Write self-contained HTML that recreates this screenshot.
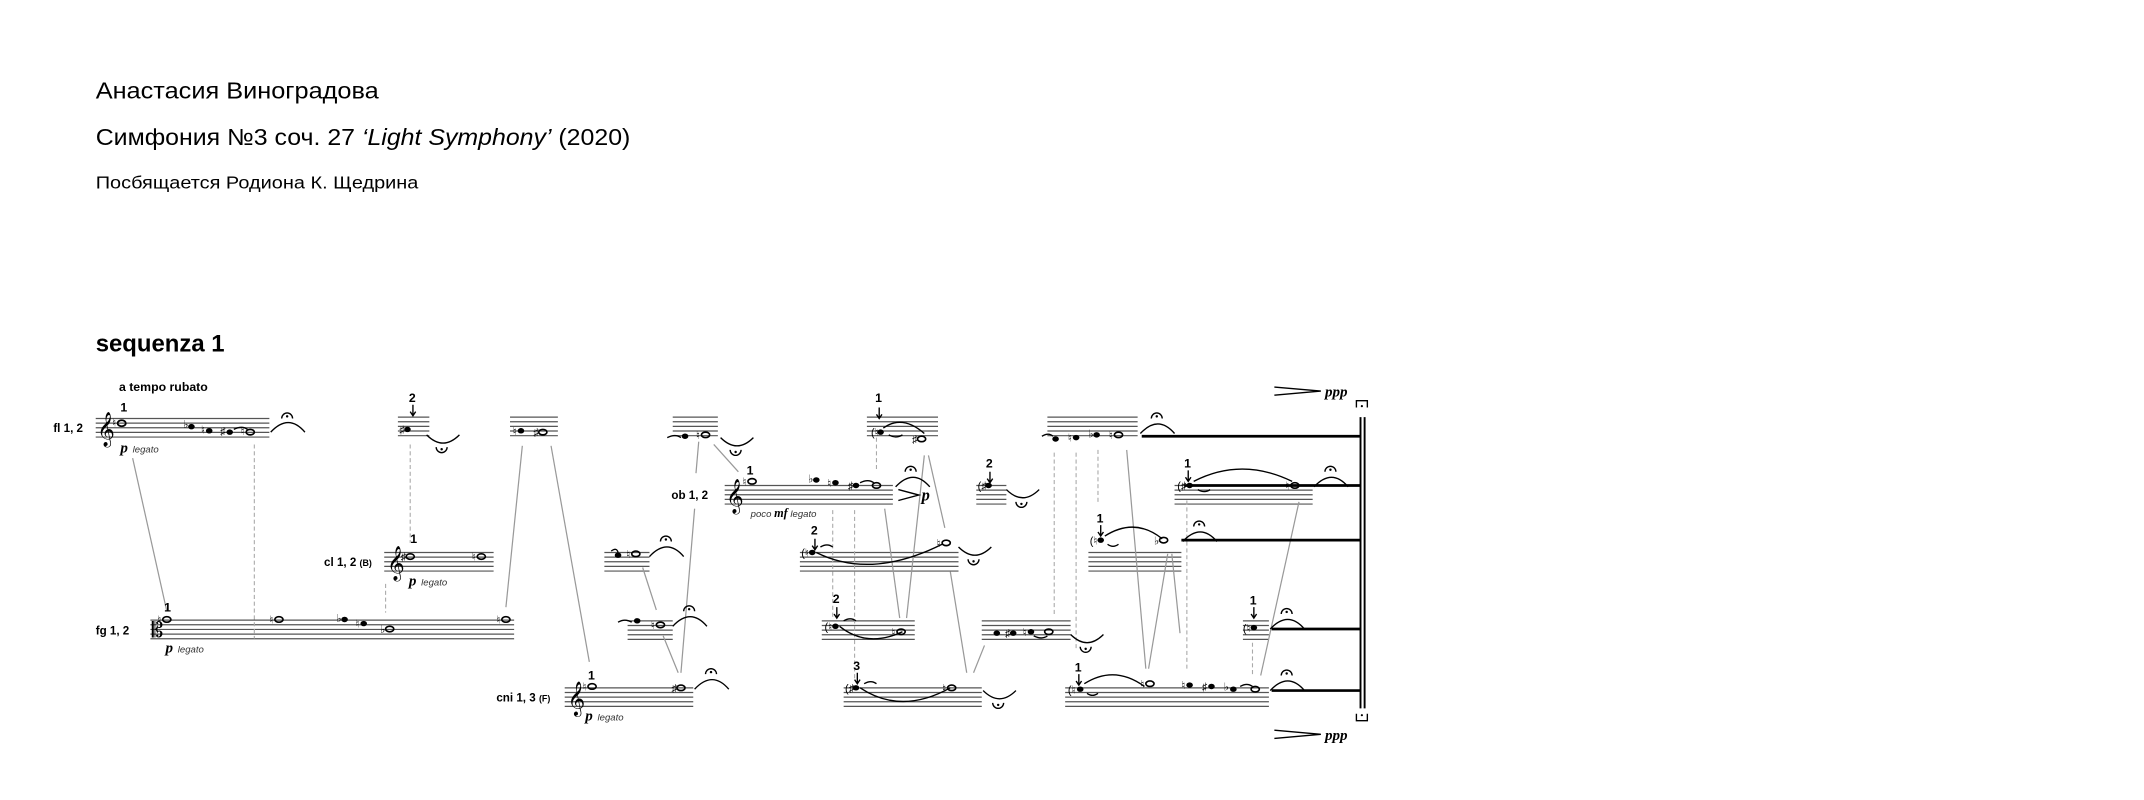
<!DOCTYPE html>
<html><head><meta charset="utf-8"><style>
html,body{margin:0;padding:0;background:#fff;}
svg{display:block;}
text{font-family:"Liberation Sans",sans-serif;fill:#000;}
.st{stroke:#555;stroke-width:0.9;fill:none;}
.gl{stroke:#999;stroke-width:0.9;fill:none;}
.ds{stroke:#aaa;stroke-width:0.8;stroke-dasharray:3,2;fill:none;}
.sl{stroke:#000;stroke-width:1;fill:none;}
.th{stroke:#000;stroke-width:2;fill:none;}
.dyn{font-family:"Liberation Serif",serif;font-style:italic;font-weight:bold;}
.leg{font-style:italic;font-size:7px;fill:#333;}
.lab{font-weight:bold;font-size:8.5px;}
.num{font-weight:bold;font-size:9px;}
.acc{font-family:"DejaVu Sans",sans-serif;font-size:8px;}
</style></head><body>
<svg width="2144" height="800" viewBox="0 0 1568 585" xmlns="http://www.w3.org/2000/svg">
<rect width="1568" height="585" fill="#fff"/>
<text x="70" y="72" font-size="17" textLength="207" lengthAdjust="spacingAndGlyphs">Анастасия Виноградова</text>
<text x="70" y="106" font-size="17" textLength="391" lengthAdjust="spacingAndGlyphs">Симфония №3 соч. 27 <tspan font-style="italic">‘Light Symphony’</tspan> (2020)</text>
<text x="70" y="138" font-size="13" textLength="236" lengthAdjust="spacingAndGlyphs">Посбящается Родиона К. Щедрина</text>
<text x="70" y="257" font-size="17.5" font-weight="bold">sequenza 1</text>
<text x="87" y="286" font-size="9" font-weight="bold">a tempo rubato</text>

<g class="st">
<path d="M70 306H197M70 309.4H197M70 312.8H197M70 316.2H197M70 319.6H197"/>
<path d="M291 305H314M291 308.4H314M291 311.8H314M291 315.2H314M291 318.6H314"/>
<path d="M373 305H408M373 308.4H408M373 311.8H408M373 315.2H408M373 318.6H408"/>
<path d="M492 305H525M492 308.4H525M492 311.8H525M492 315.2H525M492 318.6H525"/>
<path d="M530 355H653M530 358.4H653M530 361.8H653M530 365.2H653M530 368.6H653"/>
<path d="M281 404H361M281 407.4H361M281 410.8H361M281 414.2H361M281 417.6H361"/>
<path d="M110 453.5H376M110 456.9H376M110 460.3H376M110 463.7H376M110 467.1H376"/>
<path d="M413 503H507M413 506.4H507M413 509.8H507M413 513.2H507M413 516.6H507"/>
<path d="M442 404H475M442 407.4H475M442 410.8H475M442 414.2H475M442 417.6H475"/>
<path d="M459 454H492M459 457.4H492M459 460.8H492M459 464.2H492M459 467.6H492"/>
<path d="M634 305H686M634 308.4H686M634 311.8H686M634 315.2H686M634 318.6H686"/>
<path d="M585 404H701M585 407.4H701M585 410.8H701M585 414.2H701M585 417.6H701"/>
<path d="M601 454H669M601 457.4H669M601 460.8H669M601 464.2H669M601 467.6H669"/>
<path d="M617 503H718M617 506.4H718M617 509.8H718M617 513.2H718M617 516.6H718"/>
<path d="M714 355H736M714 358.4H736M714 361.8H736M714 365.2H736M714 368.6H736"/>
<path d="M718 454H783M718 457.4H783M718 460.8H783M718 464.2H783M718 467.6H783"/>
<path d="M766 305H832M766 308.4H832M766 311.8H832M766 315.2H832M766 318.6H832"/>
<path d="M859 355H960M859 358.4H960M859 361.8H960M859 365.2H960M859 368.6H960"/>
<path d="M796 404H864M796 407.4H864M796 410.8H864M796 414.2H864M796 417.6H864"/>
<path d="M909 454H928M909 457.4H928M909 460.8H928M909 464.2H928M909 467.6H928"/>
<path d="M779 503H928M779 506.4H928M779 509.8H928M779 513.2H928M779 516.6H928"/>
</g>

<g class="gl">
<path d="M97 335L122 447"/>
<path d="M382 326L370 444"/>
<path d="M403 326L431 484"/>
<path d="M470 415L480 446"/>
<path d="M485 465L496 492"/>
<path d="M511 323L509 346M508 372L498 492"/>
<path d="M522 325L540 345"/>
<path d="M676 333L663 452"/>
<path d="M647 372L658 452"/>
<path d="M679 333L691 386"/>
<path d="M695 418L707 492"/>
<path d="M720 472L712 492"/>
<path d="M824 329L838 489"/>
<path d="M840 489L854 405"/>
<path d="M857 405L863 463"/>
<path d="M950 367L922 494"/>
</g>
<g class="ds">
<path d="M186 325V467"/>
<path d="M300 325V397"/>
<path d="M282 427V448"/>
<path d="M641 320V345"/>
<path d="M609 373V453"/>
<path d="M625 373V497"/>
<path d="M771 331V450"/>
<path d="M787 331V475"/>
<path d="M803 329V368"/>
<path d="M868 366V491"/>
<path d="M916 470V494"/>
</g>

<text x="71" y="321" font-size="22" font-family="DejaVu Sans">𝄞</text>
<text x="531" y="370" font-size="22" font-family="DejaVu Sans">𝄞</text>
<text x="283" y="419" font-size="22" font-family="DejaVu Sans">𝄞</text>
<text x="415" y="518" font-size="22" font-family="DejaVu Sans">𝄞</text>
<text x="111" y="466" font-size="15" font-family="DejaVu Sans">𝄡</text>

<text x="39" y="316" class="lab">fl 1, 2</text>
<text x="70" y="464" class="lab">fg 1, 2</text>
<text x="237" y="414" class="lab">cl 1, 2 <tspan font-size="6.5">(B)</tspan></text>
<text x="363" y="513" class="lab">cni 1, 3 <tspan font-size="6.5">(F)</tspan></text>
<text x="491" y="365" class="lab">ob 1, 2</text>

<g class="num">
<text x="88" y="301">1</text><text x="120" y="447">1</text><text x="300" y="397">1</text>
<text x="430" y="497">1</text><text x="546" y="347">1</text>
<text x="299" y="294">2</text><text x="640" y="294">1</text><text x="721" y="342">2</text>
<text x="593" y="391">2</text><text x="609" y="441">2</text><text x="624" y="490">3</text>
<text x="866" y="342">1</text><text x="802" y="382">1</text><text x="914" y="442">1</text><text x="786" y="491">1</text>
</g>
<g class="sl" stroke-width="0.8">
<path d="M302 296v8M300 301l2 3 2-3"/>
<path d="M643 298v8M641 303l2 3 2-3"/>
<path d="M724 345v8M722 350l2 3 2-3"/>
<path d="M596 394v8M594 399l2 3 2-3"/>
<path d="M612 444v8M610 449l2 3 2-3"/>
<path d="M627 492v8M625 497l2 3 2-3"/>
<path d="M869 344v8M867 349l2 3 2-3"/>
<path d="M805 384v8M803 389l2 3 2-3"/>
<path d="M917 444v8M915 449l2 3 2-3"/>
<path d="M789 493v8M787 498l2 3 2-3"/>
</g>

<text x="88" y="331" class="dyn" font-size="11">p</text><text x="97" y="331" class="leg">legato</text>
<text x="121" y="477" class="dyn" font-size="11">p</text><text x="130" y="477" class="leg">legato</text>
<text x="299" y="428" class="dyn" font-size="11">p</text><text x="308" y="428" class="leg">legato</text>
<text x="428" y="527" class="dyn" font-size="11">p</text><text x="437" y="527" class="leg">legato</text>
<text x="549" y="378" class="leg" font-size="7">poco <tspan class="dyn" font-size="9" fill="#000">mf</tspan> legato</text>
<path d="M657 358L672 362L657 366" class="sl"/>
<text x="674" y="366" class="dyn" font-size="12">p</text>
<path d="M932 283L966 286L932 289" class="sl" stroke-width="0.7"/>
<text x="969" y="290" class="dyn" font-size="11">ppp</text>
<path d="M932 534L966 537L932 540" class="sl" stroke-width="0.7"/>
<text x="969" y="541" class="dyn" font-size="11">ppp</text>

<g class="th">
<path d="M835 319H995"/><path d="M866 355H995"/><path d="M864 395H995"/>
<path d="M930 460H995"/><path d="M930 505H995"/>
</g>
<path d="M995 305V518" stroke="#000" stroke-width="1.4"/>
<path d="M998 305V518" stroke="#000" stroke-width="1.4"/>
<path d="M992 298V293H1000V298" class="sl"/><circle cx="996" cy="297" r="0.8"/>
<path d="M992 522V527H1000V522" class="sl"/><circle cx="996" cy="523" r="0.8"/>

<g fill="#000">
<ellipse cx="89" cy="309.5" rx="3" ry="2.2" fill="none" stroke="#000" stroke-width="1.3"/>
<ellipse cx="140" cy="312" rx="2.4" ry="2"/><ellipse cx="153" cy="315" rx="2.4" ry="2"/>
<ellipse cx="168" cy="316" rx="2.4" ry="2"/><ellipse cx="183" cy="316" rx="3" ry="2" fill="none" stroke="#000" stroke-width="1.2"/>
<ellipse cx="298" cy="314" rx="2.4" ry="2"/>
<ellipse cx="381" cy="315" rx="2.4" ry="2"/><ellipse cx="397" cy="316" rx="3" ry="2" fill="none" stroke="#000" stroke-width="1.2"/>
<ellipse cx="501" cy="319" rx="2.4" ry="2"/><ellipse cx="516" cy="318" rx="3" ry="2" fill="none" stroke="#000" stroke-width="1.2"/>
<ellipse cx="550" cy="352" rx="3" ry="2" fill="none" stroke="#000" stroke-width="1.2"/>
<ellipse cx="597" cy="351" rx="2.4" ry="2"/><ellipse cx="611" cy="353" rx="2.4" ry="2"/>
<ellipse cx="626" cy="355" rx="2.4" ry="2"/><ellipse cx="641" cy="355" rx="3" ry="2" fill="none" stroke="#000" stroke-width="1.2"/>
<ellipse cx="300" cy="407" rx="3" ry="2" fill="none" stroke="#000" stroke-width="1.2"/>
<ellipse cx="352" cy="407" rx="3" ry="2" fill="none" stroke="#000" stroke-width="1.2"/>
<ellipse cx="122" cy="453" rx="3" ry="2" fill="none" stroke="#000" stroke-width="1.2"/>
<ellipse cx="204" cy="453" rx="3" ry="2" fill="none" stroke="#000" stroke-width="1.2"/>
<ellipse cx="252" cy="453" rx="2.4" ry="2"/><ellipse cx="266" cy="456" rx="2.4" ry="2"/>
<ellipse cx="285" cy="460" rx="3" ry="2" fill="none" stroke="#000" stroke-width="1.2"/>
<ellipse cx="370" cy="453" rx="3" ry="2" fill="none" stroke="#000" stroke-width="1.2"/>
<ellipse cx="433" cy="502" rx="3" ry="2" fill="none" stroke="#000" stroke-width="1.2"/>
<ellipse cx="498" cy="503" rx="3" ry="2" fill="none" stroke="#000" stroke-width="1.2"/>
<ellipse cx="452" cy="406" rx="2.4" ry="2"/><ellipse cx="465" cy="405" rx="3" ry="2" fill="none" stroke="#000" stroke-width="1.2"/>
<ellipse cx="466" cy="454" rx="2.4" ry="2"/><ellipse cx="483" cy="457" rx="3" ry="2" fill="none" stroke="#000" stroke-width="1.2"/>
<ellipse cx="644" cy="316" rx="2.4" ry="2"/><ellipse cx="674" cy="321" rx="3" ry="2" fill="none" stroke="#000" stroke-width="1.2"/>
<ellipse cx="594" cy="404" rx="2.4" ry="2"/><ellipse cx="692" cy="397" rx="3" ry="2" fill="none" stroke="#000" stroke-width="1.2"/>
<ellipse cx="611" cy="458" rx="2.4" ry="2"/><ellipse cx="659" cy="462" rx="3" ry="2" fill="none" stroke="#000" stroke-width="1.2"/>
<ellipse cx="626" cy="503" rx="2.4" ry="2"/><ellipse cx="696" cy="503" rx="3" ry="2" fill="none" stroke="#000" stroke-width="1.2"/>
<ellipse cx="723" cy="355" rx="2.4" ry="2"/>
<ellipse cx="729" cy="463" rx="2.4" ry="2"/><ellipse cx="741" cy="463" rx="2.4" ry="2"/>
<ellipse cx="754" cy="462" rx="2.4" ry="2"/><ellipse cx="767" cy="462" rx="3" ry="2" fill="none" stroke="#000" stroke-width="1.2"/>
<ellipse cx="772" cy="321" rx="2.4" ry="2"/><ellipse cx="787" cy="320" rx="2.4" ry="2"/>
<ellipse cx="802" cy="318" rx="2.4" ry="2"/><ellipse cx="818" cy="318" rx="3" ry="2" fill="none" stroke="#000" stroke-width="1.2"/>
<ellipse cx="870" cy="355" rx="2.4" ry="2"/><ellipse cx="947" cy="355" rx="3" ry="2" fill="none" stroke="#000" stroke-width="1.2"/>
<ellipse cx="805" cy="395" rx="2.4" ry="2"/><ellipse cx="851" cy="395" rx="3" ry="2" fill="none" stroke="#000" stroke-width="1.2"/>
<ellipse cx="917" cy="459" rx="2.4" ry="2"/>
<ellipse cx="790" cy="504" rx="2.4" ry="2"/><ellipse cx="841" cy="500" rx="3" ry="2" fill="none" stroke="#000" stroke-width="1.2"/>
<ellipse cx="870" cy="501" rx="2.4" ry="2"/><ellipse cx="886" cy="502" rx="2.4" ry="2"/>
<ellipse cx="902" cy="504" rx="2.4" ry="2"/><ellipse cx="918" cy="504" rx="3" ry="2" fill="none" stroke="#000" stroke-width="1.2"/>
</g>

<g class="acc">
<text x="82" y="312">♮</text><text x="134" y="313">♭</text><text x="147" y="317">♮</text><text x="161" y="318">♯</text><text x="176" y="318">♮</text>
<text x="292" y="317">♯</text><text x="375" y="318">♮</text><text x="390" y="319">♯</text><text x="509" y="321">♮</text>
<text x="543" y="355">♮</text><text x="591" y="353">♭</text><text x="605" y="356">♮</text><text x="620" y="358">♯</text>
<text x="293" y="410">♯</text><text x="345" y="410">♮</text>
<text x="115" y="456">♮</text><text x="197" y="456">♮</text><text x="246" y="455">♭</text><text x="260" y="459">♮</text><text x="278" y="463">♭</text><text x="363" y="456">♮</text>
<text x="426" y="505">♮</text><text x="491" y="506">♯</text>
<text x="458" y="408">♮</text><text x="476" y="460">♮</text>
<text x="637" y="319">(♮</text><text x="667" y="324">♯</text>
<text x="586" y="407">(♮</text><text x="685" y="400">♮</text>
<text x="603" y="461">(♮</text><text x="652" y="465">♮</text>
<text x="618" y="506">(♯</text><text x="689" y="506">♮</text>
<text x="715" y="358">(♯</text>
<text x="735" y="466">♯</text><text x="748" y="465">♮</text>
<text x="781" y="323">♮</text><text x="796" y="320">♭</text><text x="811" y="321">♮</text>
<text x="861" y="358">(♯</text><text x="940" y="358">♮</text>
<text x="797" y="398">(♮</text><text x="844" y="398">♭</text>
<text x="909" y="462">(♮</text>
<text x="781" y="507">(♮</text><text x="834" y="503">♮</text><text x="864" y="504">♮</text><text x="879" y="505">♯</text><text x="895" y="505">♭</text>
</g>

<g class="sl">
<path d="M171 314q6-3 10 0"/><path d="M488 320q6-3 10 0"/><path d="M629 353q6-3 10 0"/>
<path d="M447 403q4-3 5 1"/><path d="M452 455q5-3 10 0"/><path d="M762 319q5-3 8 0"/>
<path d="M756 465q6 3 10 0"/><path d="M907 502q5-3 9 0"/>
<path d="M646 313q14-10 30 4"/><path d="M650 318q5 3 10 0"/>
<path d="M597 404q40 20 92-6"/><path d="M600 400q5-3 9 0"/>
<path d="M614 458q20 16 46 4"/><path d="M617 454q5-3 9 0"/>
<path d="M629 503q30 20 66 0"/><path d="M632 500q5-3 9 0"/>
<path d="M873 352q35-18 72 0"/><path d="M876 358q5 3 9 0"/>
<path d="M808 392q22-14 42 2"/><path d="M810 398q4 3 8 0"/>
<path d="M793 500q22-14 44 2"/><path d="M795 507q4 3 8 0"/>
</g>
<g class="sl" stroke-width="1.2">
<path d="M198 316q13-14 25 0"/><path d="M206 306a4 4 0 0 1 8 0"/>
<path d="M655 356q13-14 25 0"/><path d="M662 345a4 4 0 0 1 8 0"/>
<path d="M475 407q13-14 25 0"/><path d="M483 396a4 4 0 0 1 8 0"/>
<path d="M492 458q13-14 25 0"/><path d="M500 447a4 4 0 0 1 8 0"/>
<path d="M508 504q13-14 25 0"/><path d="M516 493a4 4 0 0 1 8 0"/>
<path d="M834 317q13-14 25 0"/><path d="M842 306a4 4 0 0 1 8 0"/>
<path d="M961 356q13-14 25 0"/><path d="M969 345a4 4 0 0 1 8 0"/>
<path d="M865 396q13-14 25 0"/><path d="M873 385a4 4 0 0 1 8 0"/>
<path d="M929 460q13-14 25 0"/><path d="M937 449a4 4 0 0 1 8 0"/>
<path d="M929 505q13-14 25 0"/><path d="M937 494a4 4 0 0 1 8 0"/>
</g>
<g fill="#000"><circle cx="210" cy="304.5" r="0.9"/><circle cx="666" cy="343.5" r="0.9"/><circle cx="487" cy="394.5" r="0.9"/><circle cx="504" cy="445.5" r="0.9"/><circle cx="520" cy="491.5" r="0.9"/><circle cx="846" cy="304.5" r="0.9"/><circle cx="973" cy="343.5" r="0.9"/><circle cx="877" cy="383.5" r="0.9"/><circle cx="941" cy="447.5" r="0.9"/><circle cx="941" cy="492.5" r="0.9"/></g>
<g class="sl" stroke-width="1.2">
<path d="M312 318q12 12 24 0"/><path d="M319 327a4 4 0 0 0 8 0"/>
<path d="M527 320q12 12 24 0"/><path d="M534 329a4 4 0 0 0 8 0"/>
<path d="M701 400q12 12 24 0"/><path d="M708 409a4 4 0 0 0 8 0"/>
<path d="M719 505q12 12 24 0"/><path d="M726 514a4 4 0 0 0 8 0"/>
<path d="M736 358q12 12 24 0"/><path d="M743 367a4 4 0 0 0 8 0"/>
<path d="M783 464q12 12 24 0"/><path d="M790 473a4 4 0 0 0 8 0"/>
</g>
<g fill="#000"><circle cx="323" cy="328.5" r="0.9"/><circle cx="538" cy="330.5" r="0.9"/><circle cx="712" cy="410.5" r="0.9"/><circle cx="730" cy="515.5" r="0.9"/><circle cx="747" cy="368.5" r="0.9"/><circle cx="794" cy="474.5" r="0.9"/></g>
</svg>
</body></html>
